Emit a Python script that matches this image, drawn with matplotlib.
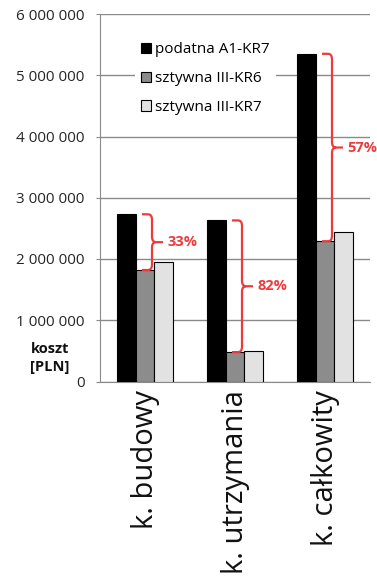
import numpy as np
import matplotlib.pyplot as plt
from matplotlib.path import Path
from matplotlib.patches import PathPatch, Patch
from matplotlib.ticker import FuncFormatter

plt.rcParams['font.family'] = ['Open Sans', 'DejaVu Sans']

# koszty w PLN dla trzech wariantów nawierzchni
kategorie = ['k. budowy', 'k. utrzymania', 'k. całkowity']
serie = ['podatna A1-KR7', 'sztywna III-KR6', 'sztywna III-KR7']
podatna_a1_kr7 = [2730000, 2630000, 5350000]
sztywna_iii_kr6 = [1820000, 480000, 2290000]
sztywna_iii_kr7 = [1950000, 500000, 2440000]
kolory = ['#000000', '#8c8c8c', '#e2e2e2']
czerwony = '#ee3a3a'

fig = plt.figure(figsize=(3.77, 5.79), dpi=100)
ax = fig.add_axes([100 / 377, 1 - 381.5 / 579, 270 / 377, 367.5 / 579])

x = np.arange(len(kategorie))
w = 0.208
for i, (vals, kol, nazwa) in enumerate(zip([podatna_a1_kr7, sztywna_iii_kr6, sztywna_iii_kr7], kolory, serie)):
    ax.bar(x + (i - 1) * w, vals, w, color=kol, edgecolor='black', linewidth=0.8, label=nazwa, zorder=3)

ax.set_xlim(-0.5, 2.5)
ax.set_ylim(0, 6000000)
ax.set_yticks(np.arange(0, 6000001, 1000000))
ax.yaxis.set_major_formatter(FuncFormatter(lambda v, p: f'{int(v):,}'.replace(',', ' ')))
ax.grid(axis='y', color='#8a8a8a', linewidth=1.0, zorder=0)
for s in ['top', 'right']:
    ax.spines[s].set_visible(False)
ax.spines['left'].set_color('#8a8a8a')
ax.spines['bottom'].set_color('#8a8a8a')
ax.tick_params(axis='y', length=3, color='#8a8a8a', labelsize=11, labelcolor='#262626', pad=8)
ax.set_xticks(x)
ax.set_xticklabels(kategorie, rotation=90, fontsize=21, va='top', ha='center', color='#111111')
ax.tick_params(axis='x', length=0, pad=6)

# klamry z procentową różnicą kosztów
px = 1 / 90.0
ry = 90000
for i in range(len(kategorie)):
    top = podatna_a1_kr7[i]
    bot = sztywna_iii_kr6[i]
    mid = (top + bot) / 2
    x0 = x[i] - 3 * px
    x1 = x[i] + 7 * px
    r = 4 * px
    x2 = x[i] + 18 * px
    verts = [(x0, top), (x1 - r, top), (x1, top), (x1, top - ry),
             (x1, mid + ry), (x1, mid), (x1 + r, mid),
             (x2, mid), (x1 + r, mid), (x1, mid), (x1, mid - ry),
             (x1, bot + ry), (x1, bot), (x1 - r, bot), (x0, bot)]
    codes = [Path.MOVETO, Path.LINETO, Path.CURVE3, Path.CURVE3,
             Path.LINETO, Path.CURVE3, Path.CURVE3,
             Path.LINETO, Path.MOVETO, Path.CURVE3, Path.CURVE3,
             Path.LINETO, Path.CURVE3, Path.CURVE3, Path.LINETO]
    ax.add_patch(PathPatch(Path(verts, codes), facecolor='none', edgecolor=czerwony,
                           linewidth=1.6, zorder=4, clip_on=False))
    proc = round((top - bot) / top * 100)
    ax.text(x2 + 4 * px, mid, f'{proc}%', color=czerwony, fontsize=10.5, fontweight='bold',
            va='center', ha='left', clip_on=False)

uchwyty = [Patch(facecolor=k, edgecolor='black', linewidth=0.8) for k in kolory]
leg = ax.legend(uchwyty, serie, loc='upper left', bbox_to_anchor=(0.1, 0.96), fontsize=11,
                frameon=True, framealpha=1, edgecolor='none', fancybox=False,
                handlelength=0.65, handleheight=0.65, handletextpad=0.3, labelspacing=0.9,
                borderpad=0.4)
leg.set_zorder(5)

fig.text(50 / 377, 1 - 358 / 579, 'koszt\n[PLN]', ha='center', va='center', fontsize=10.5,
         fontweight='bold', linespacing=1.45, color='#111111')

fig.savefig('out.png', dpi=100)
